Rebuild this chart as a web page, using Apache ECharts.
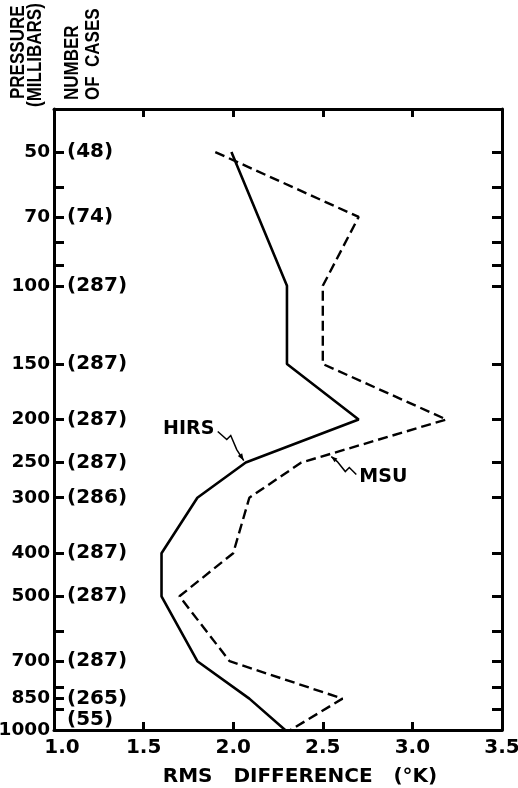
<!DOCTYPE html>
<html><head><meta charset="utf-8">
<script src="https://cdn.jsdelivr.net/npm/echarts@6/dist/echarts.min.js"></script>
<style>html,body{margin:0;padding:0;background:#fff}#c{width:518px;height:788px}</style>
</head><body><div id="c"></div>
<script>
// ---- data ----
const pressureLevels = [50, 70, 100, 150, 200, 250, 300, 400, 500, 700, 850, 1000];
const caseCounts     = [48, 74, 287, 287, 287, 287, 286, 287, 287, 287, 265, 55];
const leftTickPressures  = [50, 60, 70, 80, 90, 100, 150, 200, 250, 300, 400, 500, 600, 700, 800, 850, 900];
const rightTickPressures = [50, 60, 70, 80, 90, 100, 150, 200, 250, 300, 400, 500, 600, 700, 800, 900];
const hirsPressure = [50, 100, 150, 200, 250, 300, 400, 500, 700, 850, 1000];
const hirsRms      = [1.99, 2.30, 2.30, 2.70, 2.07, 1.80, 1.60, 1.60, 1.80, 2.09, 2.29];
const msuPressure  = [50, 70, 100, 150, 200, 250, 300, 400, 500, 700, 850, 1000];
const msuRms       = [1.90, 2.70, 2.50, 2.50, 3.19, 2.38, 2.09, 2.00, 1.70, 1.98, 2.61, 2.32];
const xMin = 1.0, xMax = 3.5, xStep = 0.5;
const pTop = 40, pBottom = 1000;
const xTitle = 'RMS   DIFFERENCE   (\u00B0K)';

const L = p => Math.log10(p);
const NUM_FONT = 'DejaVu Sans';
const chart = echarts.init(document.getElementById('c'), null, {renderer: 'canvas'});

function caseLabel(v) {
  for (let i = 0; i < pressureLevels.length; i++) {
    if (Math.abs(L(pressureLevels[i]) - v) < 1e-6) {
      const t = '(' + caseCounts[i] + ')';
      return pressureLevels[i] === 1000 ? '{lift|' + t + '}' : t;
    }
  }
  return '';
}
const axisLine = {show: true, lineStyle: {color: '#000', width: 3}};
const yBase = {type: 'value', min: L(pTop), max: L(pBottom), inverse: true, splitLine: {show: false}};
const xBase = {type: 'value', min: xMin, max: xMax, interval: xStep, splitLine: {show: false}};

const option = {
  animation: false,
  backgroundColor: '#fff',
  grid: {left: 54, right: 16, top: 109, bottom: 58, containLabel: false, outerBoundsMode: 'none'},
  xAxis: [
    Object.assign({}, xBase, {
      position: 'bottom', axisLine,
      axisTick: {show: true, inside: true, length: 8, lineStyle: {color: '#000', width: 3}},
      axisLabel: {
        margin: 8, color: '#000', fontFamily: NUM_FONT, fontWeight: 'bold', fontSize: 20,
        formatter: v => Math.abs(v - 1) < 1e-9 ? '{first|1.0}' : v.toFixed(1),
        rich: {first: {fontFamily: NUM_FONT, fontWeight: 'bold', fontSize: 20, color: '#000', padding: [0, 0, 0, 16]}}
      }
    }),
    Object.assign({}, xBase, {
      position: 'top', axisLine,
      axisTick: {show: true, inside: true, length: 8, lineStyle: {color: '#000', width: 3}},
      axisLabel: {show: false}
    })
  ],
  yAxis: [
    Object.assign({}, yBase, {
      position: 'left', axisLine,
      axisTick: {show: true, inside: true, length: 10, customValues: leftTickPressures.map(L), lineStyle: {color: '#000', width: 3}},
      axisLabel: {
        margin: 4, color: '#000', fontFamily: NUM_FONT, fontWeight: 'bold', fontSize: 18.5,
        customValues: pressureLevels.map(L),
        formatter: v => String(Math.round(Math.pow(10, v)))
      }
    }),
    Object.assign({}, yBase, {
      position: 'right', axisLine,
      axisTick: {show: true, inside: true, length: 10, customValues: rightTickPressures.map(L), lineStyle: {color: '#000', width: 3}},
      axisLabel: {show: false}
    }),
    Object.assign({}, yBase, {
      position: 'left', axisLine: {show: false}, axisTick: {show: false},
      axisLabel: {
        inside: true, margin: 13, color: '#000', fontFamily: NUM_FONT, fontWeight: 'bold', fontSize: 20,
        customValues: pressureLevels.map(L),
        formatter: caseLabel,
        rich: {lift: {fontFamily: NUM_FONT, fontWeight: 'bold', fontSize: 20, color: '#000', padding: [0, 0, 20, 0]}}
      }
    })
  ],
  series: [
    {
      name: 'HIRS', type: 'line', xAxisIndex: 0, yAxisIndex: 0, symbol: 'none',
      lineStyle: {color: '#000', width: 2.6, type: 'solid'},
      data: hirsPressure.map((p, i) => [hirsRms[i], L(p)])
    },
    {
      name: 'MSU', type: 'line', xAxisIndex: 0, yAxisIndex: 0, symbol: 'none',
      lineStyle: {color: '#000', width: 2.4, type: [10, 5]},
      data: msuPressure.map((p, i) => [msuRms[i], L(p)])
    }
  ]
};
chart.setOption(option);

// ---- annotations positioned from data coordinates ----
const P = (x, p) => chart.convertToPixel({xAxisIndex: 0, yAxisIndex: 0}, [x, L(p)]);
const h = P(hirsRms[hirsPressure.indexOf(250)], 250);
const m = P(msuRms[msuPressure.indexOf(250)], 250);
function off(base, pts) { return pts.map(d => [base[0] + d[0], base[1] + d[1]]); }
function head(tip, from, len, wid) {
  const dx = tip[0] - from[0], dy = tip[1] - from[1];
  const d = Math.hypot(dx, dy) || 1, ux = dx / d, uy = dy / d;
  const bx = tip[0] - ux * len, by = tip[1] - uy * len;
  return [[tip[0], tip[1]], [bx - uy * wid, by + ux * wid], [bx + uy * wid, by - ux * wid]];
}
const hPts = off(h, [[-28, -31], [-19, -23], [-15, -27], [-9, -13], [-2, -2]]);
const mPts = off(m, [[55, 12], [48, 5], [44, 9], [36, -1], [30, -6]]);
const TF = 'Liberation Sans';
const vt = (x, y, text) => ({type: 'text', x, y, rotation: Math.PI / 2, scaleY: 1.22,
  style: {text, font: 'bold 17px ' + TF, fill: '#000', textAlign: 'left', textVerticalAlign: 'middle'}});
chart.setOption({
  graphic: [
    {type: 'text', x: h[0] - 57, y: h[1] - 33, style: {text: 'HIRS', font: 'bold 19px ' + NUM_FONT, fill: '#000', textAlign: 'center', textVerticalAlign: 'middle'}},
    {type: 'polyline', shape: {points: hPts}, style: {stroke: '#000', lineWidth: 1.5, fill: null}},
    {type: 'polygon', shape: {points: head(hPts[4], hPts[3], 7, 2.6)}, style: {fill: '#000'}},
    {type: 'text', x: m[0] + 58, y: m[1] + 15, style: {text: 'MSU', font: 'bold 19px ' + NUM_FONT, fill: '#000', textAlign: 'left', textVerticalAlign: 'middle'}},
    {type: 'polyline', shape: {points: mPts}, style: {stroke: '#000', lineWidth: 1.5, fill: null}},
    {type: 'polygon', shape: {points: head(mPts[4], mPts[3], 6, 2.3)}, style: {fill: '#000'}},
    {type: 'text', x: 300, y: 777, style: {text: xTitle, font: 'bold 20px ' + NUM_FONT, fill: '#000', textAlign: 'center', textVerticalAlign: 'middle'}},
    vt(18, 99, 'PRESSURE'),
    vt(35, 107, '(MILLIBARS)'),
    vt(72, 100, 'NUMBER'),
    vt(93, 100, 'OF  CASES')
  ]
});
</script>
</body></html>
